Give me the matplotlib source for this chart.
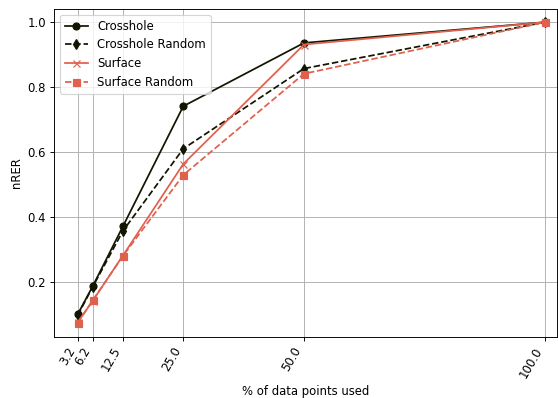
import matplotlib
matplotlib.use("Agg")
import matplotlib.pyplot as plt

x_vals = [3.125, 6.25, 12.5, 25.0, 50.0, 100.0]
x_labels = ["3.2", "6.2", "12.5", "25.0", "50.0", "100.0"]

crosshole = [0.100, 0.187, 0.371, 0.741, 0.936, 1.0]
crosshole_random = [0.097, 0.185, 0.357, 0.610, 0.857, 1.0]
surface = [0.075, 0.142, 0.281, 0.563, 0.931, 1.0]
surface_random = [0.074, 0.143, 0.280, 0.529, 0.841, 1.0]

dark = "#141500"
red = "#e0604e"

DPI = 84
fig = plt.figure(figsize=(558 / DPI, 398 / DPI), dpi=DPI)
ax = fig.add_axes([0.0968, 0.154, 0.9012, 0.823])

ax.plot(x_vals, crosshole, color=dark, marker="o", linestyle="-", label="Crosshole")
ax.plot(x_vals, crosshole_random, color=dark, marker="d", linestyle="--", label="Crosshole Random")
ax.plot(x_vals, surface, color=red, marker="x", linestyle="-", label="Surface")
ax.plot(x_vals, surface_random, color=red, marker="s", linestyle="--", label="Surface Random")

ax.set_xticks(x_vals)
ax.set_xticklabels(x_labels, rotation=60, ha="right", rotation_mode="default")
ax.set_xlim(-1.78, 102.4)
ax.set_ylim(0.031, 1.04)
ax.set_yticks([0.2, 0.4, 0.6, 0.8, 1.0])
ax.grid(True, color="#b0b0b0")
ax.set_axisbelow(True)
ax.set_xlabel("% of data points used")
ax.set_ylabel("nRER")
ax.legend(loc="upper left")

fig.savefig("out.png", dpi=DPI)
